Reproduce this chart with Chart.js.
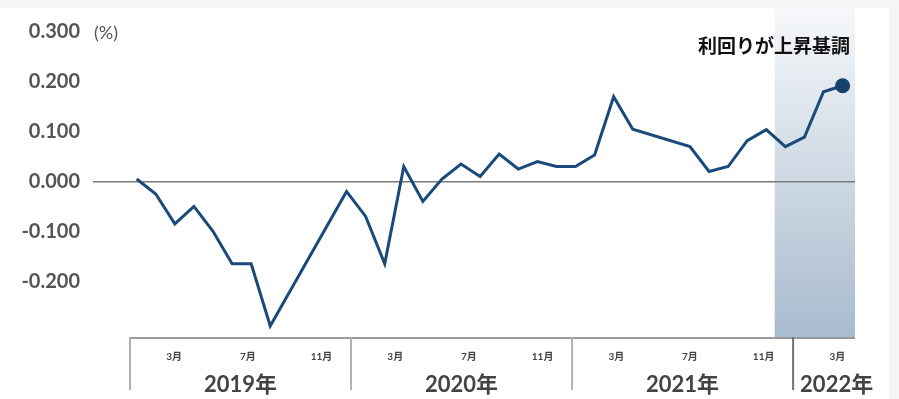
<!DOCTYPE html>
<html>
<head>
<meta charset="utf-8">
<script src="https://cdn.jsdelivr.net/npm/chart.js@4"></script>
<style>
  html, body { margin: 0; padding: 0; background: #f5f5f5; }
  #card { position: absolute; left: 0; top: 8px; width: 889px; height: 391px; background: #fff; }
</style>
</head>
<body>
<div id="card"><canvas id="yieldChart"></canvas></div>
<script>
"use strict";

// monthly yield, Jan 2019 .. Feb 2022 (null = not plotted, line spans the gap)
const years = [2019, 2020, 2021, 2022];
const monthTicks = ['3月', '7月', '11月'];
const yTicks = [-0.2, -0.1, 0, 0.1, 0.2, 0.3];
const yieldValues = [
  0.005, -0.025, -0.085, -0.05, -0.1, -0.165, -0.165, -0.29, null, null, null, -0.02,
  -0.07, -0.165, 0.03, -0.04, 0.005, 0.035, 0.01, 0.055, 0.025, 0.04, 0.03, 0.03,
  0.053, 0.17, 0.105, null, null, 0.07, 0.02, 0.03, 0.082, 0.104, 0.07, 0.089,
  0.18, 0.192
];
const annotation = '利回りが上昇基調';
const unitLabel = '(%)';
const highlightFrom = 35; // Dec 2021

const cjk = '"Noto Sans CJK JP"';
const lastIndex = yieldValues.length - 1;

const noPadding = (scale) => {
  scale.paddingTop = 0;
  scale.paddingBottom = 0;
  scale.paddingLeft = 0;
  scale.paddingRight = 0;
};

const axisPlugin = {
  id: 'axisPlugin',
  beforeDraw(chart) {
    const { ctx, chartArea, scales } = chart;
    const x2 = scales.x2;
    const left = x2.getPixelForValue(highlightFrom);
    const grad = ctx.createLinearGradient(0, 0, 0, chartArea.bottom);
    grad.addColorStop(0, '#f6f8fa');
    grad.addColorStop(1, '#a8bbce');
    ctx.save();
    ctx.fillStyle = grad;
    ctx.fillRect(left, 0, chartArea.right - left, chartArea.bottom);
    ctx.restore();
  },
  afterDraw(chart) {
    const { ctx, chartArea, scales } = chart;
    const x2 = scales.x2;
    const y = scales.y;
    const bottom = chartArea.bottom;
    ctx.save();

    // box line under the plot
    ctx.strokeStyle = '#9a9a9a';
    ctx.lineWidth = 2;
    ctx.beginPath();
    ctx.moveTo(x2.getPixelForValue(0), bottom + 1);
    ctx.lineTo(chartArea.right, bottom + 1);
    ctx.stroke();

    // year dividers and labels
    ctx.font = 'bold 22px Lato, ' + cjk;
    ctx.fillStyle = '#444';
    ctx.textBaseline = 'middle';
    years.forEach((yr, i) => {
      const xs = x2.getPixelForValue(i * 12);
      ctx.strokeStyle = i === years.length - 1 ? '#707070' : '#b0b0b0';
      ctx.lineWidth = 2;
      ctx.beginPath();
      ctx.moveTo(xs, bottom);
      ctx.lineTo(xs, bottom + 53);
      ctx.stroke();

      const text = yr + '年';
      const w = ctx.measureText(text).width;
      const xe = Math.min(x2.getPixelForValue((i + 1) * 12), chartArea.right);
      let cx = (xs + xe) / 2;
      if (cx + w / 2 > chartArea.right) {
        cx = xs + 7 + w / 2;
      }
      ctx.textAlign = 'center';
      ctx.fillText(text, cx, bottom + 48);
    });

    // unit label
    ctx.font = '18px Lato';
    ctx.fillStyle = '#555';
    ctx.textAlign = 'left';
    ctx.fillText(unitLabel, chartArea.left + 1, y.getPixelForValue(0.3) + 1);

    // annotation
    ctx.font = 'bold 19px ' + cjk;
    ctx.fillStyle = '#111';
    ctx.textAlign = 'right';
    ctx.fillText(annotation, chartArea.right - 5, 38);
    ctx.restore();
  }
};

const ctx = document.getElementById('yieldChart').getContext('2d');
const yieldChart = new Chart(ctx, {
  type: 'line',
  data: {
    datasets: [{
      data: yieldValues.map((v, i) => ({ x: i, y: v })),
      borderColor: '#1a4a7c',
      borderWidth: 3,
      tension: 0,
      spanGaps: true,
      pointRadius: (c) => c.dataIndex === lastIndex ? 7.5 : 0,
      pointBackgroundColor: '#17416d',
      pointBorderWidth: 0,
      clip: false
    }]
  },
  options: {
    responsive: true,
    maintainAspectRatio: false,
    animation: false,
    layout: { padding: { left: 0, right: 34, top: 0, bottom: 0 } },
    plugins: { legend: { display: false }, tooltip: { enabled: false } },
    scales: {
      x: {
        type: 'linear',
        min: -2.29,
        max: 37.65,
        display: false
      },
      x2: {
        type: 'linear',
        position: 'bottom',
        min: -2.009,
        max: 39.36,
        grid: { display: false },
        border: { display: false },
        afterBuildTicks: (scale) => {
          const t = [];
          years.forEach((yr, i) => {
            [3, 7, 11].forEach((m) => {
              const v = i * 12 + m - 1 + 0.4;
              if (v < scale.max) t.push({ value: v });
            });
          });
          scale.ticks = t;
        },
        afterFit: (scale) => { scale.height = 62; noPadding(scale); },
        ticks: {
          autoSkip: false,
          maxRotation: 0,
          padding: 6,
          color: '#444',
          font: { size: 10, weight: 'bold', family: 'Lato, ' + cjk },
          callback: (v, i) => monthTicks[i % 3]
        }
      },
      y: {
        min: -0.312,
        max: 0.333,
        afterBuildTicks: (scale) => {
          scale.ticks = yTicks.map(v => ({ value: v }));
        },
        afterFit: (scale) => { scale.width = 93; noPadding(scale); },
        border: { display: false },
        grid: {
          drawTicks: false,
          color: (c) => c.tick && c.tick.value === 0 ? '#7a7a7a' : 'rgba(0,0,0,0)',
          lineWidth: 1.5
        },
        ticks: {
          padding: 13,
          color: '#555',
          font: { size: 20, weight: 'bold', family: 'Lato' },
          callback: (v) => v.toFixed(3)
        }
      }
    }
  },
  plugins: [axisPlugin]
});
</script>
</body>
</html>
